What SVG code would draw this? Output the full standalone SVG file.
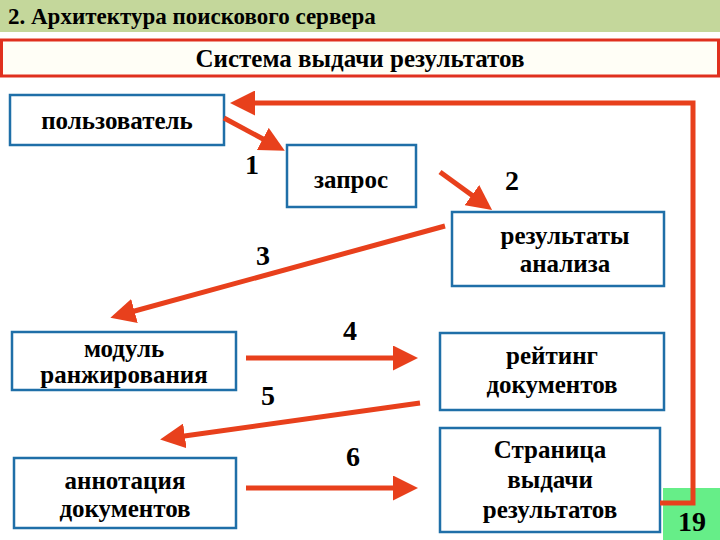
<svg xmlns="http://www.w3.org/2000/svg" width="720" height="540" viewBox="0 0 720 540">
<style>
text{font-family:"Liberation Serif","Times New Roman","DejaVu Serif",serif}
.n{fill:#fff;stroke:#1f6fa8;stroke-width:2.5}
.t{font-weight:bold;font-size:25px;text-anchor:middle;fill:#000}
.num{font-weight:bold;font-size:28px;text-anchor:middle;fill:#000}
.a{stroke:#e8401c;stroke-width:5;fill:none;marker-end:url(#h)}
</style>
<defs><marker id="h" markerWidth="5" markerHeight="5" refX="3" refY="2.5" orient="auto" markerUnits="strokeWidth"><path d="M0,0L5,2.5L0,5z" fill="#e8401c"/></marker></defs>
<rect width="720" height="540" fill="#fff"/>
<rect width="720" height="32" fill="#c4d79b"/>
<text x="8" y="24" font-weight="bold" font-size="23">2. Архитектура поискового сервера</text>
<rect x="1.5" y="40" width="717" height="36" fill="#fffef6" stroke="#e0301e" stroke-width="3"/>
<text x="360" y="67" class="t" font-size="29">Система выдачи результатов</text>
<g id="user"><rect class="n" x="10" y="95" width="214" height="50"/><text class="t" x="117" y="129" font-size="28">пользователь</text></g>
<g id="query"><rect class="n" x="287" y="145" width="129" height="62"/><text class="t" x="351" y="188" font-size="28">запрос</text></g>
<g id="results"><rect class="n" x="452" y="212" width="212" height="74"/><text class="t" x="565" y="244">результаты</text><text class="t" x="565" y="272">анализа</text></g>
<g id="rank"><rect class="n" x="12" y="332" width="224" height="58"/><text class="t" x="124" y="357" font-size="24">модуль</text><text class="t" x="124" y="383" font-size="24">ранжирования</text></g>
<g id="rating"><rect class="n" x="440" y="333" width="224" height="77"/><text class="t" x="552" y="364">рейтинг</text><text class="t" x="552" y="393">документов</text></g>
<g id="annot"><rect class="n" x="14" y="458" width="222" height="70"/><text class="t" x="125" y="489">аннотация</text><text class="t" x="125" y="517">документов</text></g>
<g id="page"><rect class="n" x="440" y="428" width="220" height="104"/><text class="t" x="550" y="458" font-size="27">Страница</text><text class="t" x="550" y="488" font-size="27">выдачи</text><text class="t" x="550" y="518" font-size="27">результатов</text></g>
<g id="pagenum"><rect x="663" y="488" width="57" height="52" fill="#66ee88"/><text class="num" x="692" y="531" font-size="38">19</text></g>
<g id="connectors">
<path class="a" d="M224,118L276,146"/>
<path class="a" d="M440,172L484,204"/>
<path class="a" d="M445,226L120,315"/>
<path class="a" d="M246,358L408,358"/>
<path class="a" d="M420,403L170,438"/>
<path class="a" d="M246,488L408,488"/>
<path class="a" d="M660,503H693V103H240"/>
</g>
<g>
<text class="num" x="252" y="174">1</text>
<text class="num" x="512" y="190">2</text>
<text class="num" x="263" y="265">3</text>
<text class="num" x="350" y="340">4</text>
<text class="num" x="268" y="405">5</text>
<text class="num" x="353" y="466">6</text>
</g>
</svg>
